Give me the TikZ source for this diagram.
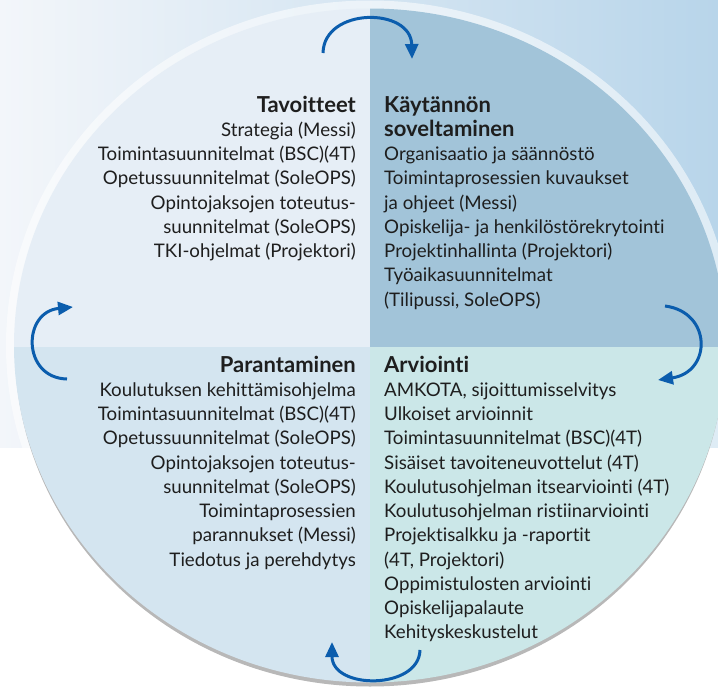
\documentclass[tikz,border=0pt]{standalone}
\usepackage{fontspec}
\setmainfont{Lato}[Ligatures=NoCommon]
\usetikzlibrary{arrows.meta}
\definecolor{skyL}{HTML}{F3F6FA}
\definecolor{skyR}{HTML}{B8D5EA}
\definecolor{qTL}{HTML}{E6EEF6}
\definecolor{qTR}{HTML}{A2C4D9}
\definecolor{qBL}{HTML}{D4E5F0}
\definecolor{qBR}{HTML}{CBE7E8}
\definecolor{arr}{HTML}{0B5DAD}
\definecolor{ink}{HTML}{1E1E1E}
\newcommand{\hd}[1]{{\fontsize{22}{22}\selectfont\bfseries #1}}
\tikzset{
  cyc/.style={draw=arr, line width=3pt, -{Triangle[length=15pt,width=13pt]}},
  txt/.style={inner sep=0pt, text=ink, font=\fontsize{18.7}{22}\selectfont},
  txtR/.style={txt, anchor=base east},
  txtLft/.style={txt, anchor=base west}
}
\begin{document}
\begin{tikzpicture}[x=1pt,y=-1pt]
\useasboundingbox (0,0) rectangle (718,688);
% background
\shade[left color=skyL, right color=skyR] (0,0) rectangle (718,447);
\fill[white, opacity=0.55] (370,345.5) ellipse [x radius=364pt, y radius=345pt];
\fill[black!28] (370,349.5) ellipse [x radius=355pt, y radius=337pt];
% quadrants
\begin{scope}
\clip (370,345.5) ellipse [x radius=356pt, y radius=337pt];
\fill[qTL] (0,0) rectangle (370,347);
\fill[qTR] (370,0) rectangle (730,347);
\fill[qBL] (0,347) rectangle (370,690);
\fill[qBR] (370,347) rectangle (730,690);
\end{scope}
% texts
\foreach \t [count=\i] in {\hd{Tavoitteet},Strategia (Messi),Toimintasuunnitelmat (BSC)(4T),Opetussuunnitelmat (SoleOPS),Opintojaksojen toteutus-,suunnitelmat (SoleOPS),TKI-ohjelmat (Projektori)}
  \node[txtR] (tl\i) at (356,{112+(\i-1)*24.27}) {\t};
\foreach \t [count=\i] in {\hd{Käytännön},\hd{soveltaminen},Organisaatio ja säännöstö,Toimintaprosessien kuvaukset,ja ohjeet (Messi),Opiskelija- ja henkilöstörekrytointi,Projektinhallinta (Projektori),Työaikasuunnitelmat,{(Tilipussi, SoleOPS)}}
  \node[txtLft] (tr\i) at (384,{112+(\i-1)*24.27}) {\t};
\foreach \t [count=\i] in {\hd{Parantaminen},Koulutuksen kehittämisohjelma,Toimintasuunnitelmat (BSC)(4T),Opetussuunnitelmat (SoleOPS),Opintojaksojen toteutus-,suunnitelmat (SoleOPS),Toimintaprosessien,parannukset (Messi),Tiedotus ja perehdytys}
  \node[txtR] (bl\i) at (356,{372+(\i-1)*24.27}) {\t};
\foreach \t [count=\i] in {\hd{Arviointi},{AMKOTA, sijoittumisselvitys},Ulkoiset arvioinnit,Toimintasuunnitelmat (BSC)(4T),Sisäiset tavoiteneuvottelut (4T),Koulutusohjelman itsearviointi (4T),Koulutusohjelman ristiinarviointi,Projektisalkku ja -raportit,{(4T, Projektori)},Oppimistulosten arviointi,Opiskelijapalaute,Kehityskeskustelut}
  \node[txtLft] (br\i) at (384,{372+(\i-1)*24.27}) {\t};
% cycle arrows
\coordinate (aTs) at (323,53);
\coordinate (aTe) at (412,59);
\coordinate (aRs) at (665,306);
\coordinate (aRe) at (658,380);
\coordinate (aBs) at (420,650);
\coordinate (aBe) at (332,642);
\coordinate (aLs) at (67,379);
\coordinate (aLe) at (73,307);
\draw[cyc] (aTs) .. controls (324,7) and (411,7) .. (aTe);
\draw[cyc] (aRs) .. controls (712,312) and (712,372) .. (aRe);
\draw[cyc] (aBs) .. controls (419,690) and (332,690) .. (aBe);
\draw[cyc] (aLs) .. controls (22,378) and (22,312) .. (aLe);
\end{tikzpicture}
\end{document}
